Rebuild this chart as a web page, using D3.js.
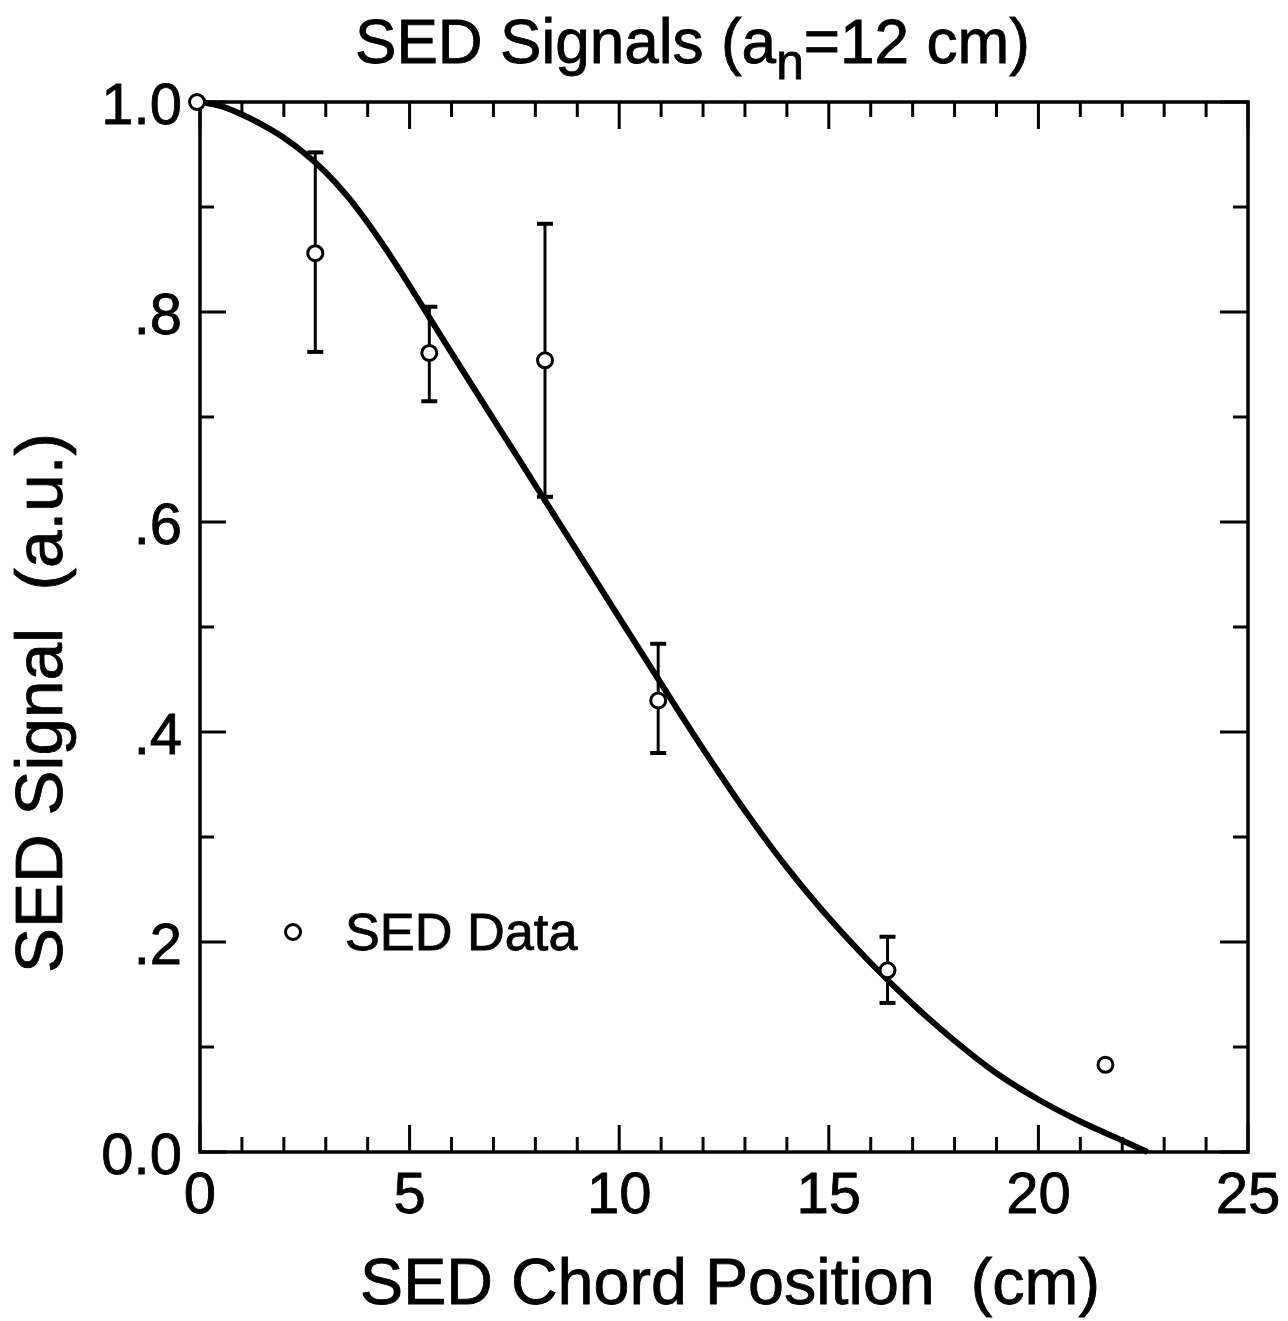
<!DOCTYPE html>
<meta charset="utf-8">
<style>
  body { margin: 0; background: #fff; }
  text { font-family: "Liberation Sans", Arial, sans-serif; fill: #000; stroke: #000; stroke-width: 0.8px; }
  .frame { fill: none; stroke: #000; stroke-width: 3.5px; }
  .tick line { stroke: #000; stroke-width: 3px; }
  .curve { fill: none; stroke: #000; stroke-width: 6px; stroke-linejoin: round; }
  .err { stroke: #000; stroke-width: 3px; }
  .cap { stroke: #000; stroke-width: 4px; }
  .pt { fill: #fff; stroke: #000; stroke-width: 3px; }
</style>
<body>
<script src="https://d3js.org/d3.v7.min.js"></script>
<script>

// measured data (SED signal vs chord position)
const pointX   = [0, 2.75, 5.47, 8.23, 10.93, 16.4, 21.6];
const pointY   = [1.0, 0.856, 0.761, 0.754, 0.430, 0.173, 0.083];
const errLow   = [null, 0.762, 0.715, 0.624, 0.380, 0.142, null];
const errHigh  = [null, 0.952, 0.805, 0.884, 0.484, 0.205, null];

// fitted curve (a_n = 12 cm)
const curveX = [0, 0.5, 1, 1.5, 2, 2.5, 3, 3.5, 4, 4.5, 5, 5.5, 6, 7, 8, 9, 10, 11, 12, 13, 14, 15, 16, 17, 18, 19, 20, 21, 22, 22.6];
const curveY = [1.0, 0.996, 0.988, 0.978, 0.966, 0.951, 0.933, 0.911, 0.885, 0.856, 0.825, 0.793, 0.761, 0.698, 0.635, 0.572, 0.509, 0.446, 0.384, 0.325, 0.271, 0.223, 0.180, 0.141, 0.106, 0.075, 0.050, 0.029, 0.011, 0.0];

const xTicks = [0, 5, 10, 15, 20, 25];
const xTickLabels = ["0", "5", "10", "15", "20", "25"];
const yTicks = [0, 0.2, 0.4, 0.6, 0.8, 1.0];
const yTickLabels = ["0.0", ".2", ".4", ".6", ".8", "1.0"];

const width = 1288, height = 1321;
const pLeft = 200, pRight = 1248, pTop = 102, pBottom = 1152;

const svg = d3.select('body').append('svg')
  .attr('width', width)
  .attr('height', height);

const x = d3.scaleLinear().domain([0, 25]).range([pLeft, pRight]);
const y = d3.scaleLinear().domain([0, 1]).range([pBottom, pTop]);

// scale font so text spans a given width
function fitWidth(sel, target) {
  const w = sel.node().getBBox().width;
  const fs = parseFloat(sel.attr('font-size'));
  sel.attr('font-size', fs * target / w);
}

const minorX = d3.range(0, 26, 1);
const minorY = d3.range(0, 1.01, 0.1).map(d => +d.toFixed(1));
const isMajorX = d => d % 5 === 0;
const isMajorY = d => Math.round(d * 10) % 2 === 0;

// inward ticks, all four sides
const ticks = svg.append('g').attr('class', 'tick');
ticks.selectAll('.bx').data(minorX).join('line').attr('class', 'bx')
  .attr('x1', d => x(d)).attr('x2', d => x(d))
  .attr('y1', pBottom).attr('y2', d => pBottom - (isMajorX(d) ? 27 : 15));
ticks.selectAll('.tx').data(minorX).join('line').attr('class', 'tx')
  .attr('x1', d => x(d)).attr('x2', d => x(d))
  .attr('y1', pTop).attr('y2', d => pTop + (isMajorX(d) ? 27 : 15));
ticks.selectAll('.ly').data(minorY).join('line').attr('class', 'ly')
  .attr('y1', d => y(d)).attr('y2', d => y(d))
  .attr('x1', pLeft).attr('x2', d => pLeft + (isMajorY(d) ? 26 : 14));
ticks.selectAll('.ry').data(minorY).join('line').attr('class', 'ry')
  .attr('y1', d => y(d)).attr('y2', d => y(d))
  .attr('x1', pRight).attr('x2', d => pRight - (isMajorY(d) ? 28 : 15));

svg.append('rect').attr('class', 'frame')
  .attr('x', pLeft).attr('y', pTop)
  .attr('width', pRight - pLeft).attr('height', pBottom - pTop);

// tick labels
svg.append('g').selectAll('text').data(xTicks).join('text')
  .attr('x', d => x(d)).attr('y', 1213)
  .attr('text-anchor', 'middle')
  .attr('font-size', 58)
  .text((d, i) => xTickLabels[i]);

svg.append('g').selectAll('text').data(yTicks).join('text')
  .attr('x', 182).attr('y', d => y(d) + 22)
  .attr('text-anchor', 'end')
  .attr('font-size', 58)
  .text((d, i) => yTickLabels[i]);

// curve
const line = d3.line()
  .x((d, i) => x(curveX[i]))
  .y(d => y(d))
  .curve(d3.curveMonotoneX);

svg.append('path').attr('class', 'curve')
  .datum(curveY)
  .attr('d', line);

// error bars
const idx = d3.range(pointX.length).filter(i => errLow[i] !== null);
const eb = svg.append('g');
eb.selectAll('.v').data(idx).join('line').attr('class', 'err v')
  .attr('x1', i => x(pointX[i])).attr('x2', i => x(pointX[i]))
  .attr('y1', i => y(errLow[i])).attr('y2', i => y(errHigh[i]));
eb.selectAll('.lo').data(idx).join('line').attr('class', 'cap lo')
  .attr('x1', i => x(pointX[i]) - 8).attr('x2', i => x(pointX[i]) + 8)
  .attr('y1', i => y(errLow[i])).attr('y2', i => y(errLow[i]));
eb.selectAll('.hi').data(idx).join('line').attr('class', 'cap hi')
  .attr('x1', i => x(pointX[i]) - 8).attr('x2', i => x(pointX[i]) + 8)
  .attr('y1', i => y(errHigh[i])).attr('y2', i => y(errHigh[i]));

// points
svg.append('g').selectAll('circle').data(pointX).join('circle')
  .attr('class', 'pt')
  .attr('cx', (d, i) => x(d) - (i === 0 ? 3 : 0))
  .attr('cy', (d, i) => y(pointY[i]))
  .attr('r', 7.5);

// legend
svg.append('circle').attr('class', 'pt').attr('cx', 293).attr('cy', 932).attr('r', 7.5);
const leg = svg.append('text').attr('x', 345).attr('y', 950)
  .attr('font-size', 46).text('SED Data');
fitWidth(leg, 233);

// title with subscript
const title = svg.append('text').attr('x', 355).attr('y', 63).attr('font-size', 60);
title.append('tspan').text('SED Signals (a');
title.append('tspan').attr('dy', 16).attr('font-size', '0.8em').text('n');
title.append('tspan').attr('dy', -16).text('=12 cm)');
fitWidth(title, 675);

// axis titles
const xl = svg.append('text').attr('x', 730).attr('y', 1304)
  .attr('text-anchor', 'middle').attr('font-size', 60)
  .style('white-space', 'pre')
  .text('SED Chord Position  (cm)');
fitWidth(xl, 740);

const yl = svg.append('text')
  .attr('transform', 'translate(62,703) rotate(-90)')
  .attr('text-anchor', 'middle').attr('font-size', 60)
  .style('white-space', 'pre')
  .text('SED Signal  (a.u.)');
fitWidth(yl, 540);

</script>
</body>
